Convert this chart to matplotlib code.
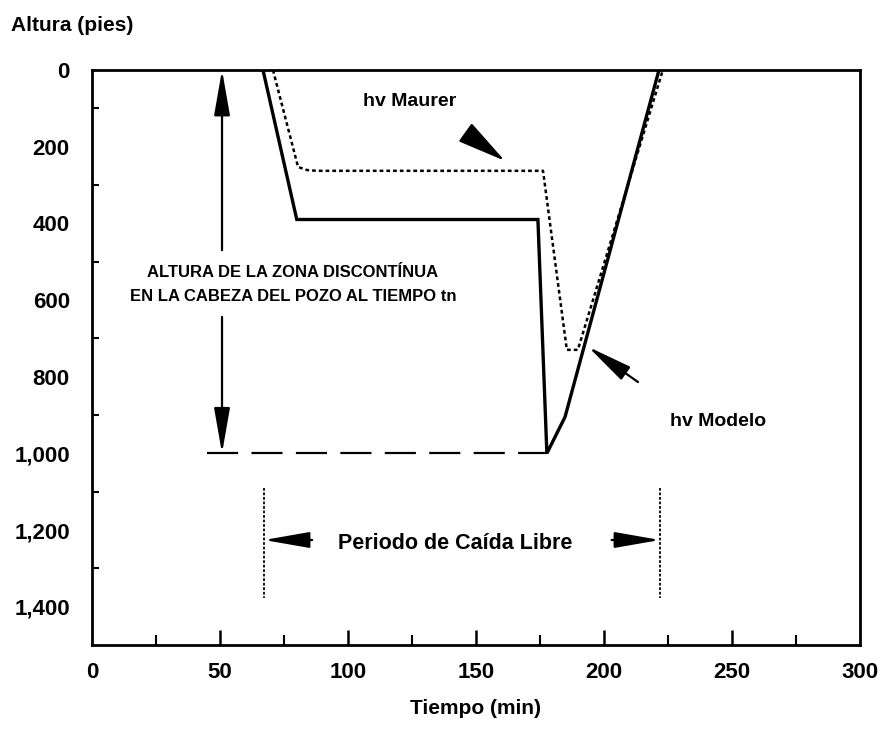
import numpy as np
import matplotlib.pyplot as plt
from matplotlib.patches import FancyArrowPatch
from matplotlib.ticker import FixedLocator, FuncFormatter

plt.rcParams['font.family'] = ['Liberation Sans', 'DejaVu Sans']
plt.rcParams['font.weight'] = 'bold'

# hv Modelo (solid)
modelo_t = [66.8, 80.0, 174.2, 177.7, 184.8, 221.5]
modelo_h = [0, 390, 390, 1000, 905, 0]
# hv Maurer (dotted)
maurer_t = [70.7, 80.5, 84.0, 87.9, 176.2, 185.5, 189.8, 223.0]
maurer_h = [0, 253, 261, 263, 263, 730, 730, 0]
# altura de la zona discontinua
zona_t = [45.0, 177.7]
zona_h = [1000, 1000]
# periodo de caida libre
caida_ini, caida_fin = 67.2, 221.9
caida_h = [1090, 1378]

x_ticks = [0, 50, 100, 150, 200, 250, 300]
y_ticks = [0, 200, 400, 600, 800, 1000, 1200, 1400]

fig = plt.figure(figsize=(8.81, 7.36), dpi=100)
ax = fig.add_axes([0.1044, 0.1236, 0.8717, 0.7813])

ax.plot(modelo_t, modelo_h, color='black', lw=2.4, solid_joinstyle='miter')
ax.plot(maurer_t, maurer_h, color='black', lw=1.8, linestyle=(0, (1.5, 1.2)))
ax.plot(zona_t, zona_h, color='black', lw=1.6, linestyle=(0, (14, 6)))
ax.plot([caida_ini, caida_ini], caida_h, color='black', lw=1.3, linestyle=(0, (1.5, 1)))
ax.plot([caida_fin, caida_fin], caida_h, color='black', lw=1.3, linestyle=(0, (1.5, 1)))

def flecha(x0, y0, x1, y1, hl=2.0, hw=0.35):
    a = FancyArrowPatch((x0, y0), (x1, y1),
                        arrowstyle=f'-|>,head_length={hl},head_width={hw}',
                        color='black', lw=1.6, mutation_scale=14, shrinkA=0, shrinkB=0)
    ax.add_patch(a)

# double arrow for the zone height
flecha(50.8, 470, 50.8, 0)
flecha(50.8, 644, 50.8, 1000)
# Periodo de caida libre
flecha(86, 1226, caida_ini, 1226)
flecha(203, 1226, caida_fin, 1226)
# label arrows
flecha(148.8, 177, 161.3, 237, hl=2.2, hw=0.5)
flecha(213.3, 814, 193.8, 722)

txt = dict(ha='center', va='center', fontweight='bold', color='black')
ax.text(78.5, 527, 'ALTURA DE LA ZONA DISCONTÍNUA', fontsize=12, **txt)
ax.text(78.5, 590, 'EN LA CABEZA DEL POZO AL TIEMPO tn', fontsize=12, **txt)
ax.text(124, 83, 'hv Maurer', fontsize=14, **txt)
ax.text(244.5, 918, 'hv Modelo', fontsize=14, **txt)
ax.text(141.8, 1234, 'Periodo de Caída Libre', fontsize=15.5, **txt)

ax.set_xlim(0, 300)
ax.set_ylim(1500, 0)
ax.xaxis.set_major_locator(FixedLocator(x_ticks))
ax.xaxis.set_minor_locator(FixedLocator([25, 75, 125, 175, 225, 275]))
ax.yaxis.set_major_locator(FixedLocator(y_ticks))
ax.yaxis.set_minor_locator(FixedLocator([100, 300, 500, 700, 900, 1100, 1300]))
ax.yaxis.set_major_formatter(FuncFormatter(lambda v, p: f'{int(v):,}'))
ax.tick_params(axis='x', which='major', direction='in', length=11, width=1.8, pad=12, labelsize=16)
ax.tick_params(axis='x', which='minor', direction='in', length=7, width=1.5)
ax.tick_params(axis='y', which='major', direction='in', length=0, pad=16, labelsize=16)
ax.tick_params(axis='y', which='minor', direction='in', length=5, width=1.5)
for lab in ax.get_xticklabels() + ax.get_yticklabels():
    lab.set_fontweight('bold')
# no tick marks at the x ends
ax.xaxis.get_major_ticks()[0].tick1line.set_visible(False)
ax.xaxis.get_major_ticks()[-1].tick1line.set_visible(False)
for s in ax.spines.values():
    s.set_linewidth(2.0)

ax.set_xlabel('Tiempo (min)', fontsize=15, fontweight='bold', labelpad=12)
fig.text(0.012, 0.965, 'Altura (pies)', fontsize=15, fontweight='bold', ha='left', va='center')

fig.savefig('out.png', dpi=100)
